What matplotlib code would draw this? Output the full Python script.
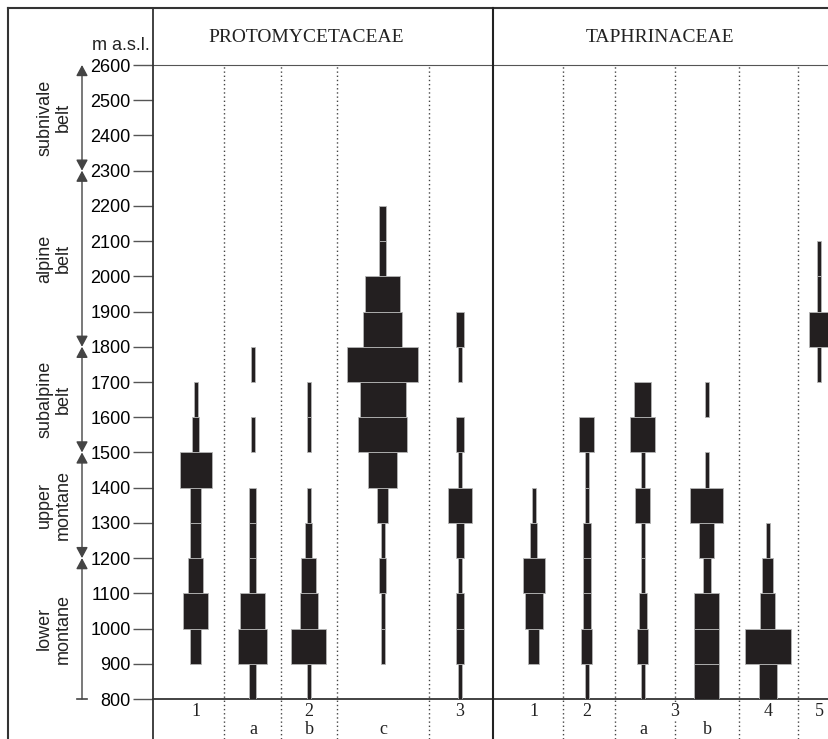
import numpy as np
import matplotlib.pyplot as plt
from matplotlib.lines import Line2D
from matplotlib.transforms import blended_transform_factory

# altitude bands, lower edge in m a.s.l., each band is 100 m
bands = [800, 900, 1000, 1100, 1200, 1300, 1400, 1500, 1600, 1700, 1800, 1900, 2000, 2100]

# bar width for each band (0 = not recorded)
prot_1 = [0, 11, 25, 15, 11, 11, 32, 7, 4, 0, 0, 0, 0, 0]
prot_2a = [7, 29, 25, 7, 7, 7, 0, 4, 0, 4, 0, 0, 0, 0]
prot_2b = [4, 35, 18, 15, 7, 4, 0, 4, 4, 0, 0, 0, 0, 0]
prot_2c = [0, 4, 4, 7, 4, 11, 29, 49, 46, 71, 39, 35, 7, 7]
prot_3 = [4, 8, 8, 4, 8, 24, 4, 8, 0, 4, 8, 0, 0, 0]
taph_1 = [0, 11, 18, 22, 7, 4, 0, 0, 0, 0, 0, 0, 0, 0]
taph_2 = [4, 11, 8, 8, 8, 4, 4, 15, 0, 0, 0, 0, 0, 0]
taph_3a = [4, 11, 8, 4, 4, 15, 4, 25, 17, 0, 0, 0, 0, 0]
taph_3b = [25, 25, 25, 8, 15, 33, 4, 0, 4, 0, 0, 0, 0, 0]
taph_4 = [18, 46, 15, 11, 4, 0, 0, 0, 0, 0, 0, 0, 0, 0]
taph_5 = [0, 0, 0, 0, 0, 0, 0, 0, 0, 4, 19, 4, 4, 0]

columns = [prot_1, prot_2a, prot_2b, prot_2c, prot_3,
           taph_1, taph_2, taph_3a, taph_3b, taph_4, taph_5]

families = ["PROTOMYCETACEAE", "TAPHRINACEAE"]
number_labels = ["1", "2", "3", "1", "2", "3", "4", "5"]
letter_labels = ["a", "b", "c", "a", "b"]

belts = ["subnivale\nbelt", "alpine\nbelt", "subalpine\nbelt", "upper\nmontane", "lower\nmontane"]
belt_limits = [2600, 2300, 1800, 1500, 1200, 800]

alt_ticks = list(range(800, 2700, 100))

# layout (pixel-like x units measured from the altitude axis)
col_x = [43, 100, 156, 230, 307, 381, 434, 490, 554, 615, 666]
number_x = [43, 156, 307, 381, 434, 522, 615, 666]
letter_x = [100, 156, 230, 490, 554]
dividers = [71, 128, 184, 276, 410, 462, 522, 586, 645]
family_sep = 340
family_x = [306, 660]

W, H = 829, 739
sans = "Liberation Sans"
serif = "Liberation Serif"
dark = "#231f20"
grey = "#444444"

fig = plt.figure(figsize=(W / 100, H / 100), dpi=100)
ax = fig.add_axes([153 / W, 40 / H, 676 / W, 634 / H])
ax.set_xlim(0, 676)
ax.set_ylim(800, 2600)

for cx, widths in zip(col_x, columns):
    w = np.array(widths, dtype=float)
    b = np.array(bands)
    keep = w > 0
    ax.bar(np.full(keep.sum(), cx), 100, width=w[keep], bottom=b[keep],
           align="center", color=dark, edgecolor="#b5b5b5", linewidth=0.6, zorder=3)

# axis styling
ax.set_xticks([])
ax.set_yticks(alt_ticks)
ax.set_yticklabels([str(t) for t in alt_ticks], fontfamily=sans, fontsize=13)
ax.tick_params(axis="y", direction="out", length=14.5, width=1.0, color="#555555", pad=1.5)
for side in ["right", "left"]:
    ax.spines[side].set_visible(False)
ax.spines["top"].set_color("#555555")
ax.spines["bottom"].set_color("#222222")
ax.spines["bottom"].set_linewidth(1.2)

fig_x = lambda px: px / W
fig_y = lambda py: 1 - py / H

# frame, axis line and family separator
frame_kw = dict(color="#333333", linewidth=1.5)
fig.add_artist(Line2D([fig_x(8), fig_x(8)], [0, fig_y(8)], **frame_kw))
fig.add_artist(Line2D([fig_x(8), 1], [fig_y(8), fig_y(8)], **frame_kw))
fig.add_artist(Line2D([fig_x(153), fig_x(153)], [0, fig_y(8)], color="#333333", linewidth=1.3))
fig.add_artist(Line2D([fig_x(153 + family_sep)] * 2, [0, fig_y(8)], color="#222222", linewidth=1.5))

# dotted column dividers
tr = blended_transform_factory(ax.transData, fig.transFigure)
for d in dividers:
    ax.plot([d, d], [0, fig_y(65)], transform=tr, clip_on=False,
            color=grey, linewidth=1.0, linestyle=(0, (1, 2)), zorder=1)

# family headers
for name, fx in zip(families, family_x):
    fig.text(fig_x(fx), fig_y(38), name, fontfamily=serif, fontsize=14,
             ha="center", va="center", color="#222222")

fig.text(fig_x(150), fig_y(45), "m a.s.l.", fontfamily=sans, fontsize=13,
         ha="right", va="center", color="#222222")

# column labels below the axis
for lab, x in zip(number_labels, number_x):
    ax.text(x, fig_y(712), lab, transform=tr, fontfamily=serif, fontsize=13,
            ha="center", va="center", color="#222222",
            bbox=dict(facecolor="white", edgecolor="none", pad=0.5))
for lab, x in zip(letter_labels, letter_x):
    ax.text(x, fig_y(729), lab, transform=tr, fontfamily=serif, fontsize=13,
            ha="center", va="center", color="#222222")

# altitudinal belts on the left
axb = fig.add_axes([0, 40 / H, 153 / W, 634 / H])
axb.set_xlim(0, 153)
axb.set_ylim(800, 2600)
axb.axis("off")
arrow_x = 82
for i, lab in enumerate(belts):
    top, bottom = belt_limits[i], belt_limits[i + 1]
    style = "<|-|>" if i < len(belts) - 1 else "-|>"
    axb.annotate("", xy=(arrow_x, top), xytext=(arrow_x, bottom),
                 arrowprops=dict(arrowstyle=style + ",head_length=0.65,head_width=0.35",
                                 color=grey, linewidth=1.0, shrinkA=0, shrinkB=0),
                 annotation_clip=False)
    axb.text(54, (top + bottom) / 2, lab, rotation=90, ha="center", va="center",
             ma="center", fontfamily=sans, fontsize=13, color="#222222", linespacing=1.15)
axb.plot([arrow_x - 5, arrow_x + 5], [800, 800], color=grey, linewidth=1.2, clip_on=False)

fig.savefig("out.png", dpi=100)
